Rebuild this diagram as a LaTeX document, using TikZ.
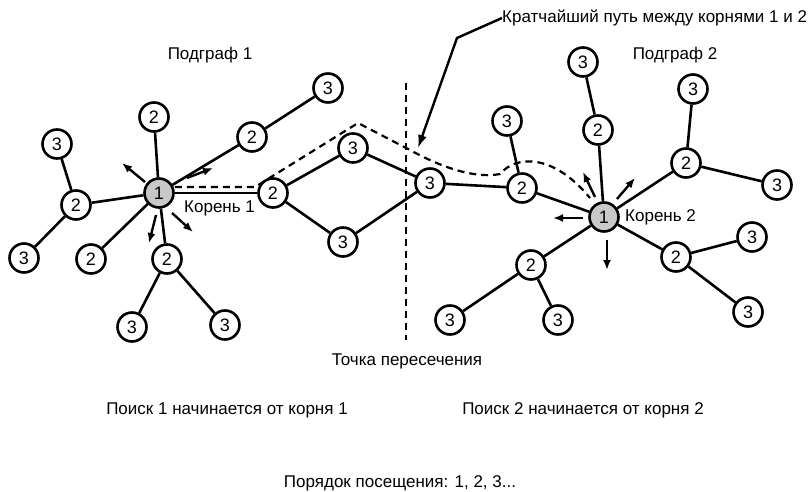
\documentclass[tikz,border=0pt]{standalone}
\usepackage{fontspec}
\setmainfont{Liberation Sans}
\usepackage{tikz}
\usetikzlibrary{arrows.meta,calc}
\definecolor{rootgray}{RGB}{200,200,200}

\begin{document}
\begin{tikzpicture}[x=1pt,y=-1pt,
    vertex/.style={circle,draw,line width=2.6pt,fill=white,minimum size=29pt,inner sep=0pt,font=\fontsize{18}{20}\selectfont},
    rootvertex/.style={vertex,fill=rootgray},
    edge/.style={line width=2.6pt},
    spread/.style={line width=2.4pt,-{Latex[length=10pt,width=8pt]}},
    txt/.style={font=\fontsize{17}{20}\selectfont,inner sep=0pt}]
        \useasboundingbox (0,0) rectangle (812,492);

        % Subgraph 1
        \node[rootvertex] (r1) at (159,193) {1};
        \node[vertex] (a1) at (154,117) {2};
        \node[vertex] (a2) at (76,205) {2};
        \node[vertex] (a3) at (91,259) {2};
        \node[vertex] (a4) at (167,259) {2};
        \node[vertex] (a5) at (252,137) {2};
        \node[vertex] (a6) at (273,193) {2};
        \node[vertex] (b1) at (57,144) {3};
        \node[vertex] (b2) at (24,258) {3};
        \node[vertex] (b3) at (132,327) {3};
        \node[vertex] (b4) at (225,325) {3};
        \node[vertex] (b5) at (328,88) {3};
        \node[vertex] (b6) at (353,148) {3};
        \node[vertex] (b7) at (343,242) {3};

        % Meeting vertex
        \node[vertex] (c) at (430,183) {3};

        % Subgraph 2
        \node[rootvertex] (r2) at (604,217) {1};
        \node[vertex] (d1) at (522,188) {2};
        \node[vertex] (d2) at (598,130) {2};
        \node[vertex] (d3) at (686,163) {2};
        \node[vertex] (d4) at (676,257) {2};
        \node[vertex] (d5) at (531,265) {2};
        \node[vertex] (e1) at (507,121) {3};
        \node[vertex] (e2) at (583,62) {3};
        \node[vertex] (e3) at (693,89) {3};
        \node[vertex] (e4) at (777,185) {3};
        \node[vertex] (e5) at (752,237) {3};
        \node[vertex] (e6) at (748,312) {3};
        \node[vertex] (e7) at (450,320) {3};
        \node[vertex] (e8) at (558,320) {3};

        % Edges
        \foreach \u/\v in {r1/a1,r1/a2,r1/a3,r1/a4,r1/a5,r1/a6,a2/b1,a2/b2,a4/b3,a4/b4,a5/b5,a6/b6,a6/b7,
                           b6/c,b7/c,c/d1,
                           r2/d1,r2/d2,r2/d3,r2/d4,r2/d5,d1/e1,d2/e2,d3/e3,d3/e4,d4/e5,d4/e6,d5/e7,d5/e8} {
          \draw[edge] (\u) -- (\v);
        }

        % Search directions around the roots
        \foreach \sx/\sy/\ex/\ey in {-14/-11/-37/-30, 28/-15/54/-25, -3/22/-10/50, 13/20/34/39} {
          \draw[spread] ($(r1)+(\sx,\sy)$) -- ($(r1)+(\ex,\ey)$);
        }
        \foreach \sx/\sy/\ex/\ey in {-21/1/-51/1, 3/23/3/53, -9/-20/-21/-45, 13/-18/31/-39} {
          \draw[spread] ($(r2)+(\sx,\sy)$) -- ($(r2)+(\ex,\ey)$);
        }

        % Shortest path and the cut
        \draw[line width=2.2pt,dash pattern=on 7pt off 5pt] (406,83) -- (406,340);
        \draw[line width=2.2pt,dash pattern=on 7pt off 5pt]
          (r1.east |- 0,187) -- (255,187) -- (358,123) -- (410,150)
          .. controls (450,172) and (480,178) .. (500,174)
          .. controls (515,156) and (552,152) .. (590,198);

        % Labels
        \node[txt] (sub1) at (210,55) {Подграф 1};
        \node[txt] (sub2) at (675,55) {Подграф 2};
        \node[txt,anchor=west] (root1) at (184,208) {Корень 1};
        \node[txt,anchor=west] (root2) at (625,217) {Корень 2};
        \node[txt,anchor=west] (short) at (502,18) {Кратчайший путь между корнями 1 и 2};
        \coordinate (tip) at (418,148);
        \draw[line width=2.4pt,-{Latex[length=13pt,width=9pt]}] (short.west) -- (457,38) -- (tip);
        \node[txt] (meet) at (407,361) {Точка пересечения};
        \node[txt] (search1) at (227,410) {Поиск 1 начинается от корня 1};
        \node[txt] (search2) at (583,410) {Поиск 2 начинается от корня 2};
        \node[txt] (order) at (400,483) {Порядок посещения: 1, 2, 3...};
    \end{tikzpicture}
\end{document}
